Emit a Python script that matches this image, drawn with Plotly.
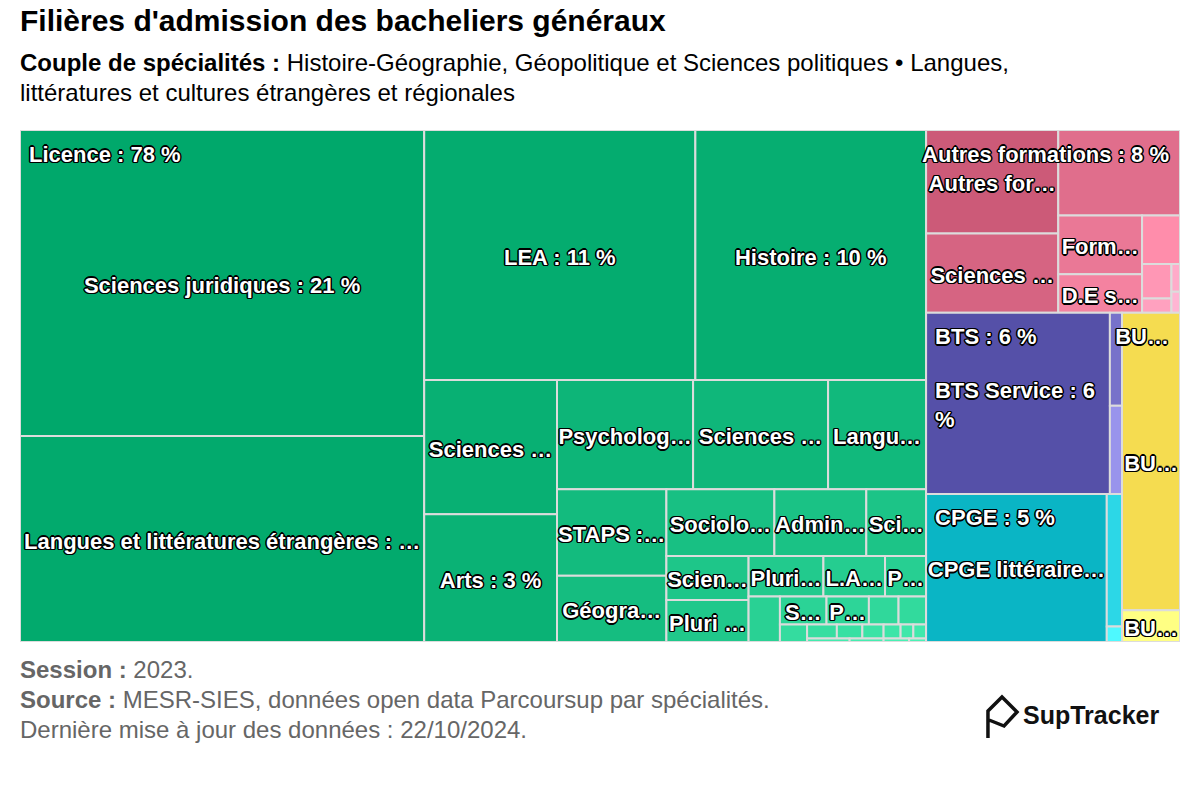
import math
import plotly.graph_objects as go

# ---------------- data (share of admissions, %) ----------------
groups = ["Licence", "Autres formations", "BTS", "CPGE", "BUT"]
group_colors = ["#00a86b", "#cc5a78", "#5550a8", "#0ab5c5", "#f5dc50"]
group_color_range = [0.30, 0.40, 0.40, 0.40, 0.40]

licence_labels = [
    "Sciences juridiques", "Langues et littératures étrangères", "LEA", "Histoire",
    "Sciences politiques", "Arts", "Psychologie", "Sciences sociales",
    "Langues et cultures régionales", "STAPS", "Géographie", "Sociologie",
    "Administration économique et sociale", "Sciences de l'éducation",
    "Sciences économiques", "Pluri Sciences humaines", "Pluridisciplinaire Lettres",
    "L.AS", "Philosophie", "Musicologie", "Sciences du langage",
    "Portail Humanités", "Théologie", "Mathématiques", "Information-communication",
    "Économie et gestion", "Sciences de la vie", "Informatique", "Physique, chimie",
    "Sciences de la Terre", "Archéologie", "Ethnologie", "Chimie", "Électronique",
    "Mécanique",
]
licence_values = [
    20.8, 14.0, 11.4, 9.7, 3.0, 2.85, 2.5, 2.48, 1.8, 1.59, 1.22, 1.21, 1.03, 0.67,
    0.61, 0.58, 0.51, 0.42, 0.28, 0.24, 0.22, 0.20, 0.14, 0.13,
    0.08, 0.07, 0.06, 0.05, 0.04, 0.03, 0.03, 0.025, 0.02, 0.015, 0.01,
]

autres_labels = [
    "Autres formations", "Sciences Po / IEP", "Écoles de commerce",
    "Formations des écoles d'ingénieurs", "D.E secteur sanitaire",
    "Mention complémentaire", "D.E secteur social", "DN MADE", "DCG", "Écoles d'art",
]
autres_values = [2.3, 1.76, 1.75, 0.83, 0.54, 0.31, 0.17, 0.07, 0.04, 0.03]

bts_labels = ["BTS Service", "BTS Production", "BTS Agricole"]
bts_values = [5.6, 0.19, 0.18]

cpge_labels = ["CPGE littéraire", "CPGE économique", "CPGE scientifique"]
cpge_values = [4.5, 0.34, 0.04]

but_labels = ["BUT Service", "BUT Production"]
but_values = [2.9, 0.31]

children = {
    "Licence": (licence_labels, licence_values),
    "Autres formations": (autres_labels, autres_values),
    "BTS": (bts_labels, bts_values),
    "CPGE": (cpge_labels, cpge_values),
    "BUT": (but_labels, but_values),
}

# ---------------- page geometry ----------------
FW, FH = 1200, 800
PLOT_L, PLOT_T, PLOT_R, PLOT_B = 20, 130, 1180, 642
PW, PH = PLOT_R - PLOT_L, PLOT_B - PLOT_T


def PX(x):
    return x / FW


def PY(y):
    return 1 - y / FH


# ---------------- squarified layout (alternating direction) ----------------
NAN = float("nan")


def div(a, b):
    if math.isnan(a) or math.isnan(b):
        return NAN
    if b == 0:
        return NAN if a == 0 else math.copysign(math.inf, a)
    return a / b


def aspect(w, h):
    r1, r2 = div(w, h), div(h, w)
    if math.isnan(r1) or math.isnan(r2):
        return NAN
    return max(r1, r2)


class Group:
    def __init__(self, h, w, d, plot):
        self.height, self.width, self.direction, self.plot = h, w, d, plot
        self.total = 0.0
        self.nW = self.lW = self.nH = self.lH = 0.0
        self.elArr = []
        self.lp = dict(total=0.0, lH=0.0, nH=0.0, lW=0.0, nW=0.0, nR=0.0, lR=0.0)

    def add(self, el):
        lp = self.lp
        lp["total"] = self.elArr[-1] if self.elArr else NAN
        self.total += el
        if self.direction == 0:
            self.lW = self.nW
            lp["lH"] = div(lp["total"], self.lW)
            lp["lR"] = aspect(self.lW, lp["lH"])
            self.nW = div(self.total, self.height)
            lp["nH"] = div(lp["total"], self.nW)
            lp["nR"] = aspect(self.nW, lp["nH"])
        else:
            self.lH = self.nH
            lp["lW"] = div(lp["total"], self.lH)
            lp["lR"] = aspect(lp["lW"], self.lH)
            self.nH = div(self.total, self.width)
            lp["nW"] = div(lp["total"], self.nH)
            lp["nR"] = aspect(lp["nW"], self.nH)
        self.elArr.append(el)

    def reset(self):
        self.nW = self.lW = 0.0
        self.elArr = []
        self.total = 0.0


def calc_points(last, g, out, parent):
    gW, gH = g.lW, g.lH
    plot = g.plot
    keep = None
    if last:
        gW, gH = g.nW, g.nH
    else:
        keep = g.elArr[-1]
    end = len(g.elArr) - 1
    for i, p in enumerate(g.elArr):
        if last or i < end:
            if g.direction == 0:
                pw = gW
                ph = div(p, pw)
                out.append((plot["x"], plot["y"], pw, ph))
                plot["y"] += ph
            else:
                ph = gH
                pw = div(p, ph)
                out.append((plot["x"], plot["y"], pw, ph))
                plot["x"] += pw
    g.reset()
    if g.direction == 0:
        g.width -= gW
    else:
        g.height -= gH
    plot["y"] = parent["y"] + (parent["height"] - g.height)
    plot["x"] = parent["x"] + (parent["width"] - g.width)
    g.direction = 1 - g.direction
    if not last:
        g.add(keep)


def squarified(x, y, w, h, vals):
    total = float(sum(vals))
    parent = dict(x=x, y=y, width=w, height=h)
    plot = dict(x=x, y=y)
    g = Group(h, w, 0, plot)
    out = []
    end = len(vals) - 1
    for i, v in enumerate(vals):
        g.add(w * h * (v / total))
        if g.lp["nR"] > g.lp["lR"]:
            calc_points(False, g, out, parent)
        if i == end:
            calc_points(True, g, out, parent)
    return out


# ---------------- text measuring (Arial / Liberation Sans Bold metrics) ----------------
BOLD_W = {
    " ": 278, "!": 333, "%": 889, "'": 238, "(": 333, ")": 333, ",": 278, "-": 333,
    ".": 278, "/": 278, ":": 333, "…": 1000,
    "A": 722, "B": 722, "C": 722, "D": 722, "E": 667, "F": 611, "G": 778, "H": 722,
    "I": 278, "J": 556, "K": 722, "L": 611, "M": 833, "N": 722, "O": 778, "P": 667,
    "Q": 778, "R": 722, "S": 667, "T": 611, "U": 722, "V": 667, "W": 944, "X": 667,
    "Y": 667, "Z": 611, "É": 667,
    "a": 556, "b": 611, "c": 556, "d": 611, "e": 556, "f": 333, "g": 611, "h": 611,
    "i": 278, "j": 278, "k": 556, "l": 278, "m": 889, "n": 611, "o": 611, "p": 611,
    "q": 611, "r": 389, "s": 556, "t": 333, "u": 611, "v": 556, "w": 778, "x": 556,
    "y": 556, "z": 500, "é": 556, "è": 556, "ê": 556, "à": 556, "ç": 556, "ô": 611,
}
LABEL_SIZE = 22


def tw(s, size=LABEL_SIZE):
    return sum(BOLD_W.get(c, 556) for c in s) * size / 1000.0


def ellipsis(s, avail):
    if tw(s) <= avail:
        return s
    for k in range(len(s) - 1, 0, -1):
        t = s[:k] + "…"
        if tw(t) <= avail:
            return t
    return None


def brighten(hex_color, amount):
    h = hex_color.lstrip("#")
    rgb = [int(h[i:i + 2], 16) for i in (0, 2, 4)]
    rgb = [max(0, min(255, int(c + 255 * amount))) for c in rgb]
    return "rgb(%d,%d,%d)" % tuple(rgb)


# ---------------- compute cells ----------------
group_totals = [sum(children[g][1]) for g in groups]
grand_total = sum(group_totals)
group_rects = squarified(0, 0, PW, PH, group_totals)

shapes = []
leaf_x, leaf_y, leaf_txt = [], [], []
wrap_x, wrap_y, wrap_txt = [], [], []
grp_x, grp_y, grp_txt = [], [], []
grp_boxes = []

for g, (gx, gy, gw, gh), gt in zip(groups, group_rects, group_totals):
    txt = "%s : %d %%" % (g, int(gt / grand_total * 100 + 0.5))
    t = ellipsis(txt, gw)
    w_t = tw(t)
    x_left = min(gx + 11, gx + gw - 9 - w_t)
    grp_x.append(x_left - 2)
    grp_y.append(gy + 26)
    grp_txt.append(t)
    grp_boxes.append((x_left, gy + 13, x_left + w_t, gy + 39))

for g, gc, rng, (gx, gy, gw, gh) in zip(groups, group_colors, group_color_range, group_rects):
    labs, vals = children[g]
    rects = squarified(gx, gy, gw, gh, vals)
    n = len(vals)
    for i, (lab, v, (x, y, w, h)) in enumerate(zip(labs, vals, rects)):
        shapes.append(dict(type="rect", xref="x", yref="y", x0=x, x1=x + w, y0=y, y1=y + h,
                           fillcolor=brighten(gc, rng * i / n),
                           line=dict(color="#dcdcdc", width=2), layer="below"))
        if h < 24:
            continue
        full = "%s : %d %%" % (lab, int(v / grand_total * 100 + 0.5))
        wrapped = False
        if tw(full) <= w:
            text, nlines = full, 1
        else:
            head, _, tail = full.rpartition(" ")
            if tw(head) <= w - 15 and h > 60:
                text, nlines, wrapped = head + "<br>" + tail, 2, True
            else:
                text, nlines = ellipsis(full, w), 1
        if not text:
            continue
        cx, cy = x + w / 2, y + h / 2 + 4
        width_t = tw(text.split("<br>")[0])
        box = (cx - width_t / 2, cy - 13 * nlines, cx + width_t / 2, cy + 13 * nlines)
        overlap = any(not (box[2] < b[0] or box[0] > b[2] or box[3] < b[1] or box[1] > b[3])
                      for b in grp_boxes)
        if overlap:
            continue
        if wrapped:
            wrap_x.append(cx - width_t / 2 - 3)
            wrap_y.append(cy)
            wrap_txt.append(text)
        else:
            leaf_x.append(cx)
            leaf_y.append(cy)
            leaf_txt.append(text)

FONT = "Liberation Sans, Arial, Helvetica, sans-serif"
OUTLINE = ("-1px -1px 0 #000, 1px -1px 0 #000, -1px 1px 0 #000, 1px 1px 0 #000, "
           "0 -1.5px 0 #000, 0 1.5px 0 #000, -1.5px 0 0 #000, 1.5px 0 0 #000")
label_font = dict(family=FONT, size=LABEL_SIZE, color="white", weight="bold", shadow=OUTLINE)

fig = go.Figure()
fig.add_trace(go.Scatter(x=leaf_x, y=leaf_y, text=leaf_txt, mode="text",
                         textposition="middle center", textfont=label_font,
                         hoverinfo="skip", showlegend=False))
fig.add_trace(go.Scatter(x=wrap_x, y=wrap_y, text=wrap_txt, mode="text",
                         textposition="middle right", textfont=label_font,
                         hoverinfo="skip", showlegend=False))
fig.add_trace(go.Scatter(x=grp_x, y=grp_y, text=grp_txt, mode="text",
                         textposition="middle right", textfont=label_font,
                         hoverinfo="skip", showlegend=False))

annotations = [
    dict(text="<b>Filières d'admission des bacheliers généraux</b>",
         x=18, y=21, size=30, color="#000000"),
    dict(text="<b>Couple de spécialités :</b> Histoire-Géographie, Géopolitique et Sciences politiques • Langues,",
         x=18, y=62, size=24, color="#000000"),
    dict(text="littératures et cultures étrangères et régionales",
         x=18, y=92, size=24, color="#000000"),
    dict(text="<b>Session :</b> 2023.", x=18, y=669, size=24, color="#666666"),
    dict(text="<b>Source :</b> MESR-SIES, données open data Parcoursup par spécialités.",
         x=18, y=699, size=24, color="#666666"),
    dict(text="Dernière mise à jour des données : 22/10/2024.", x=18, y=729, size=24,
         color="#666666"),
    dict(text="<b>SupTracker</b>", x=1021, y=715, size=25, color="#111111"),
]
ann = []
for a in annotations:
    ann.append(dict(text=a["text"], x=PX(a["x"]), y=PY(a["y"]), xref="paper", yref="paper",
                    xanchor="left", yanchor="middle", showarrow=False,
                    font=dict(family=FONT, size=a["size"], color=a["color"])))


def pp(x, y):
    return "%.4f,%.4f" % (PX(x), PY(y))


logo_path = ("M " + pp(988, 738) + " L " + pp(988, 711) + " L " + pp(1002, 697)
             + " L " + pp(1017, 712) + " L " + pp(1004, 726) + " L " + pp(989, 720))
shapes.append(dict(type="path", xref="paper", yref="paper", path=logo_path,
                   line=dict(color="#111111", width=3.5), layer="above"))

fig.update_layout(
    width=FW, height=FH,
    margin=dict(l=0, r=0, t=0, b=0),
    paper_bgcolor="white", plot_bgcolor="white",
    font=dict(family=FONT),
    xaxis=dict(domain=[PX(PLOT_L), PX(PLOT_R)], range=[0, PW], visible=False,
               fixedrange=True),
    yaxis=dict(domain=[PY(PLOT_B), PY(PLOT_T)], range=[PH, 0], visible=False,
               fixedrange=True),
    shapes=shapes,
    annotations=ann,
    showlegend=False,
)

fig.write_html("out.html", config={"displayModeBar": False},
               post_script="document.body.style.margin='0px';document.body.style.overflow='hidden';")
